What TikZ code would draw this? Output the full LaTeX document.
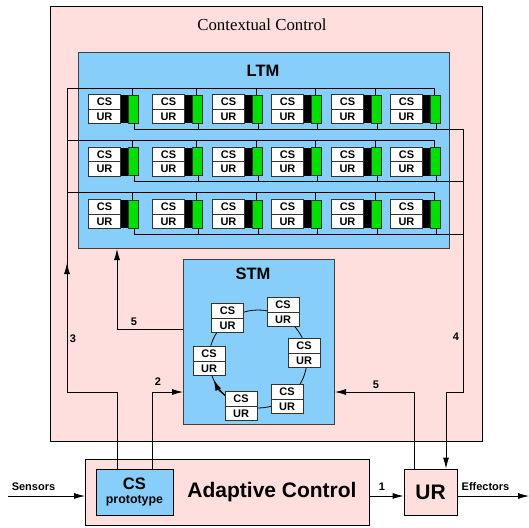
\documentclass[tikz,border=0pt]{standalone}
\usepackage{fontspec}
\setmainfont{Liberation Serif}
\setsansfont{Liberation Sans}
\usetikzlibrary{positioning,shapes.multipart,arrows.meta}

\definecolor{ccpink}{RGB}{255,222,222}
\definecolor{memblue}{RGB}{135,206,250}
\definecolor{wgreen}{RGB}{0,224,0}

\tikzset{
    arr/.style={-{Latex[length=11pt,width=6pt]}},
    membox/.style={draw=black!75, fill=memblue, line width=1pt, inner sep=0pt, anchor=north west},
    cellbox/.style={draw=black!80, fill=white, line width=.9pt, rectangle split, rectangle split parts=2,
        minimum width=32pt, inner xsep=0pt, inner ysep=3pt, text height=8pt, text depth=0pt,
        font=\sffamily\bfseries\fontsize{11}{11}\selectfont},
    blkbar/.style={fill=black, minimum width=8pt, minimum height=28pt, inner sep=0pt, outer sep=0pt},
    grnbar/.style={draw=black!80, fill=wgreen, line width=.9pt, minimum width=10pt, minimum height=28pt, inner sep=0pt, outer sep=0pt},
    bigtitle/.style={font=\sffamily\bfseries\fontsize{16.5}{18}\selectfont},
    bigtext/.style={font=\sffamily\bfseries\fontsize{21}{24}\selectfont},
    numlab/.style={font=\sffamily\bfseries\fontsize{11}{12}\selectfont}
}

\begin{document}
\begin{tikzpicture}[x=1pt,y=-1pt,line width=.8pt]
    \useasboundingbox (0,0) rectangle (529,527);

    % contextual control and LTM
    \node[draw, line width=1pt, fill=ccpink, minimum width=432pt, minimum height=435pt, anchor=north west, inner sep=0pt] (cc) at (50,6) {};
    \node[font=\fontsize{16.8}{20}\selectfont] (cctitle) at (262,25) {Contextual Control};
    \node[membox, minimum width=371pt, minimum height=196pt] (ltm) at (78,52) {};
    \node[bigtitle] (ltmtitle) at (263,71) {LTM};

    \foreach \r/\y in {1/94,2/146.5,3/199}
        \foreach \k/\x in {1/88,2/152,3/212,4/271,5/331,6/390}
        {
            \node[cellbox, anchor=north west] (c\r\k) at (\x,\y) {CS\nodepart{two}UR};
            \node[blkbar, right=0pt of c\r\k] (b\r\k) {};
            \node[grnbar, right=0pt of b\r\k] (g\r\k) {};
        }

    \foreach \r/\t/\b in {1/88/129,2/140/181.5,3/192/234}
    {
        \coordinate (top\r) at (67,\t);
        \coordinate (bot\r) at (463,\b);
    }
    \foreach \r in {1,2,3}
    {
        \draw (top\r) -| ([xshift=3pt]g\r6.north west);
        \draw (g\r1.south) |- (bot\r);
        \foreach \k in {1,...,5}
            {\draw ([xshift=3pt]g\r\k.north west) -- ([xshift=3pt]g\r\k.north west |- top\r);}
        \foreach \k in {2,...,6}
            {\draw (g\r\k.south) -- (g\r\k.south |- bot\r);}
    }

    % STM
    \node[membox, minimum width=151pt, minimum height=165pt] (stm) at (183,259) {};
    \node[bigtitle] (stmtitle) at (253,274) {STM};
    \coordinate (stmc) at (258,359);
    \draw (stmc) circle[radius=49];
    \draw[arr] (stmc) ++(118:49) arc[start angle=118, end angle=155, radius=49];
    \foreach \k/\x/\y in {1/227.5/318,2/283/312,3/304/353,4/287/399,5/241/406,6/209/361}
        {\node[cellbox] (s\k) at (\x,\y) {CS\nodepart{two}UR};}

    % adaptive control
    \node[draw, fill=ccpink, minimum width=284pt, minimum height=66pt, anchor=north west, inner sep=0pt] (adapt) at (85,459) {};
    \node[bigtext] (adapttitle) at (272,492) {Adaptive Control};
    \node[draw, fill=memblue, minimum width=77pt, minimum height=46pt, inner sep=0pt, align=center,
        font=\sffamily\bfseries\fontsize{12.4}{14}\selectfont] (proto) at (134.5,492)
        {{\fontsize{16.6}{14}\selectfont CS}\\prototype};
    \node[draw, fill=ccpink, minimum width=53pt, minimum height=46pt, inner sep=0pt, bigtext] (ur) at (430.5,492) {UR};

    \coordinate (sens) at (8,496);
    \coordinate (eff) at (529,496);
    \draw[arr] (sens) -- (sens -| adapt.west);
    \node[numlab] at (33.5,487) {Sensors};
    \draw[arr] (adapt.east |- sens) -- (ur.west |- sens);
    \node[numlab] at (382,487) {1};
    \draw[arr] (ur.east |- eff) -- (eff);
    \node[numlab] at (485.5,487) {Effectors};

    % feedback paths
    \coordinate (k3a) at (67,392);
    \coordinate (k3b) at (117,392);
    \coordinate (a3) at (67,263);
    \draw (top1) -- (k3a);
    \draw[arr] (k3b |- proto.north) -- (k3b) -- (k3a) -- (a3);
    \node[numlab] at (73,339) {3};

    \coordinate (k2) at (152,392);
    \draw[arr] (k2 |- proto.north) -- (k2) -- (k2 -| stm.west);
    \node[numlab] at (158,382) {2};

    \coordinate (k5a) at (117,329);
    \draw[arr] (k5a -| stm.west) -- (k5a) -- (k5a |- ltm.south);
    \node[numlab] at (134,322) {5};

    \coordinate (k5b) at (414,392);
    \draw[arr] (k5b |- ur.north) -- (k5b) -- (k5b -| stm.east);
    \node[numlab] at (376,385) {5};

    \coordinate (k4a) at (463,392);
    \coordinate (k4b) at (446,392);
    \draw[arr] (bot1) -- (k4a) -- (k4b) -- (k4b |- ur.north);
    \node[numlab] at (456,337) {4};
\end{tikzpicture}
\end{document}
